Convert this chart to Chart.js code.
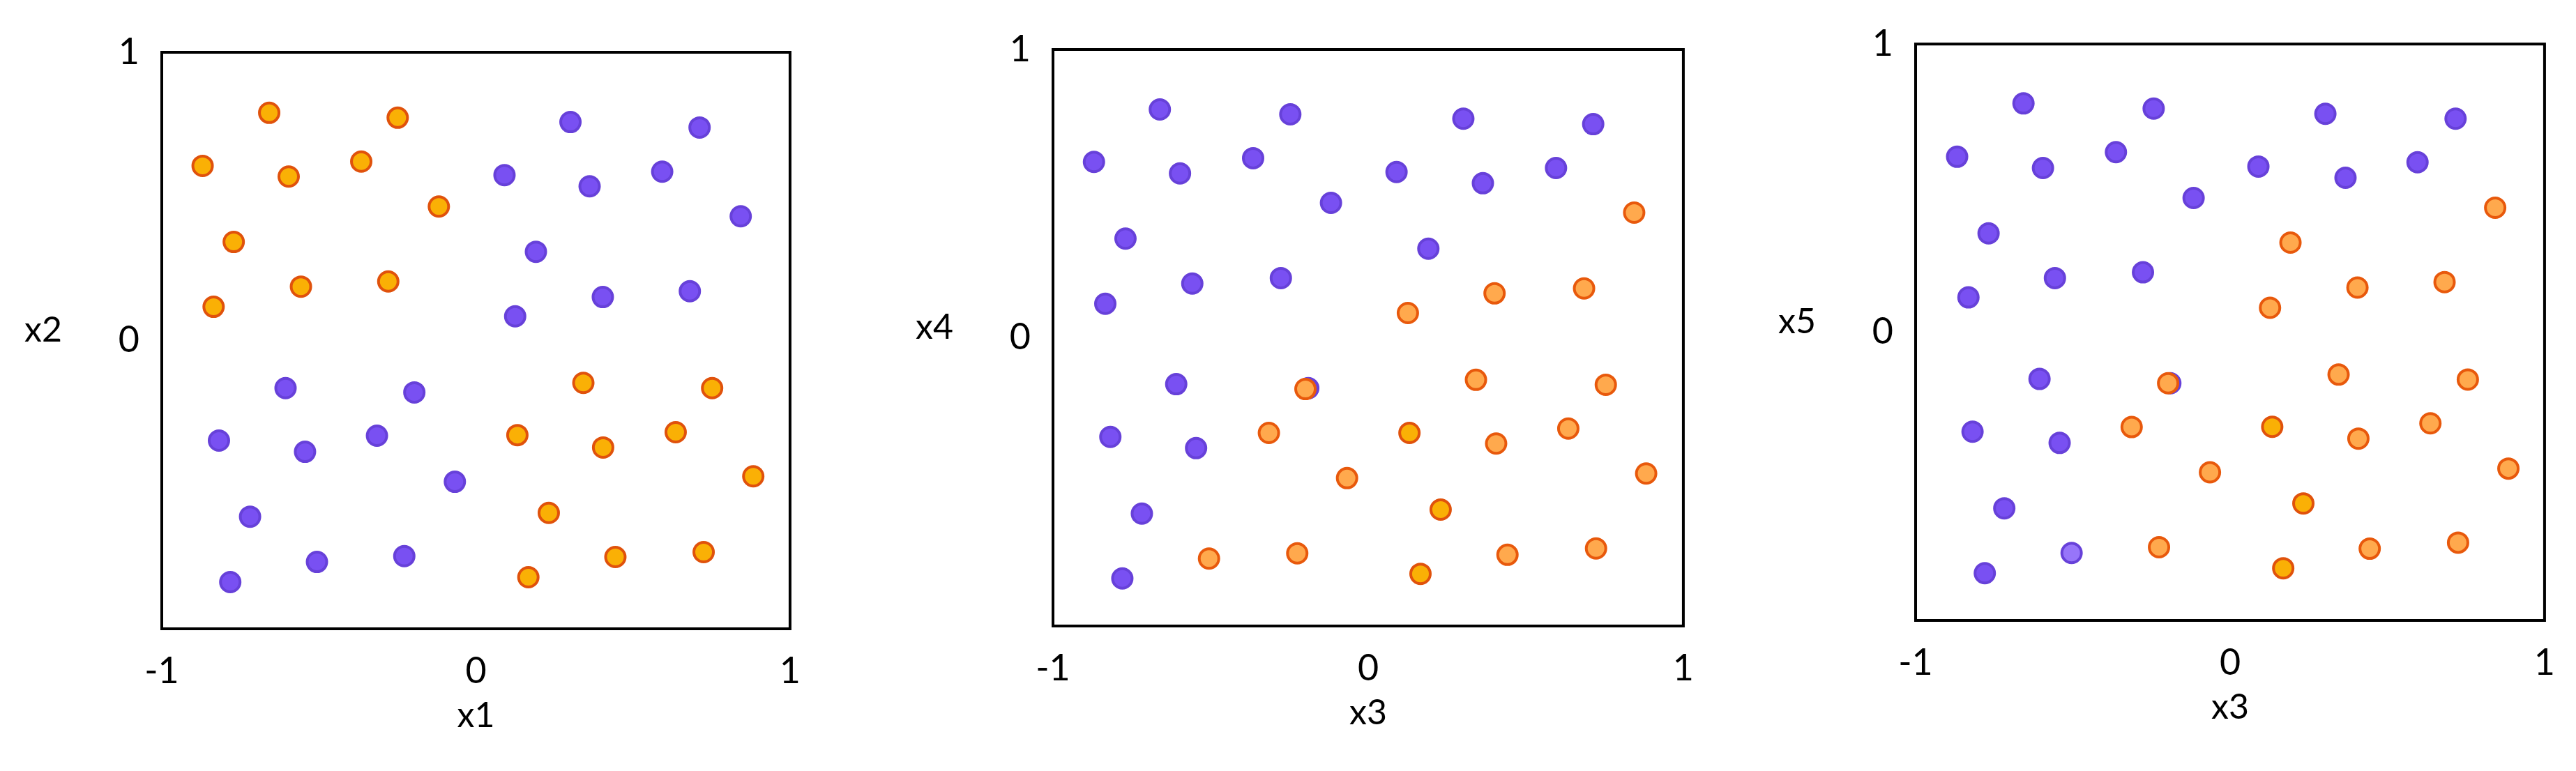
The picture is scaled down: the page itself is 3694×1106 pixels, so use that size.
<!DOCTYPE html>
<html>
<head>
<meta charset="utf-8">
<script src="https://cdn.jsdelivr.net/npm/chart.js@4.4.1/dist/chart.umd.min.js"></script>
<style>
body{margin:0;background:#fff;width:3694px;height:1106px;overflow:hidden;position:relative}
canvas{position:absolute;top:0}
</style>
</head>
<body>
<canvas id="c1"></canvas>
<canvas id="c2"></canvas>
<canvas id="c3"></canvas>
<script>
const xTicks = [-1, 0, 1]
const yTicks = [0, 1]
const axisNames = [['x1', 'x2'], ['x3', 'x4'], ['x3', 'x5']]

// panel 1 : x1 / x2
const p1Amber = [[-0.658,0.790],[-0.249,0.773],[-0.870,0.606],[-0.596,0.569],[-0.365,0.621],[-0.118,0.465],[-0.771,0.342],[-0.557,0.187],[-0.279,0.205],[-0.835,0.117],[0.342,-0.147],[0.752,-0.165],[0.132,-0.328],[0.405,-0.371],[0.636,-0.318],[0.883,-0.471],[0.232,-0.598],[0.167,-0.821],[0.444,-0.751],[0.725,-0.734]]
const p1Purple = [[0.301,0.758],[0.712,0.739],[0.091,0.574],[0.362,0.535],[0.593,0.586],[0.843,0.431],[0.191,0.308],[0.404,0.151],[0.681,0.171],[0.125,0.084],[-0.606,-0.165],[-0.196,-0.180],[-0.818,-0.347],[-0.544,-0.386],[-0.315,-0.330],[-0.067,-0.490],[-0.719,-0.611],[-0.782,-0.838],[-0.506,-0.768],[-0.228,-0.748]]

// panel 2 : x3 / x4
const p2Amber = [[0.131,-0.330],[0.230,-0.596],[0.166,-0.819]]
const p2Orange = [[0.844,0.434],[0.401,0.154],[0.685,0.171],[0.126,0.086],[0.342,-0.146],[0.754,-0.163],[-0.199,-0.178],[-0.315,-0.330],[0.406,-0.367],[0.635,-0.315],[-0.067,-0.487],[0.882,-0.471],[-0.505,-0.766],[-0.225,-0.748],[0.442,-0.753],[0.723,-0.731]]
const p2Purple = [[-0.661,0.792],[-0.247,0.775],[0.302,0.760],[0.714,0.741],[-0.870,0.610],[-0.597,0.570],[-0.365,0.623],[0.090,0.575],[0.364,0.536],[0.596,0.589],[-0.118,0.468],[-0.770,0.344],[0.191,0.309],[-0.558,0.188],[-0.277,0.207],[-0.834,0.118],[-0.609,-0.161],[-0.190,-0.175],[-0.818,-0.344],[-0.546,-0.383],[-0.718,-0.610],[-0.780,-0.835]]

// panel 3 : x3 / x5
const p3Amber = [[0.134,-0.328],[0.233,-0.594],[0.169,-0.819]]
const p3Orange = [[0.843,0.432],[0.192,0.311],[0.405,0.155],[0.682,0.174],[0.127,0.085],[0.345,-0.147],[0.756,-0.164],[-0.197,-0.177],[-0.313,-0.329],[0.408,-0.369],[0.637,-0.316],[-0.064,-0.486],[0.885,-0.473],[-0.226,-0.746],[0.444,-0.751],[0.725,-0.730]]
const p3Lilac = [[-0.504,-0.766]]
const p3Purple = [[-0.657,0.794],[-0.243,0.776],[0.303,0.758],[0.717,0.741],[-0.868,0.609],[-0.595,0.570],[-0.363,0.625],[0.090,0.575],[0.367,0.536],[0.596,0.590],[-0.116,0.466],[-0.768,0.343],[-0.557,0.188],[-0.277,0.208],[-0.832,0.121],[-0.606,-0.162],[-0.190,-0.177],[-0.819,-0.345],[-0.542,-0.384],[-0.718,-0.611],[-0.780,-0.836]]

const colors = {
	amber: ['#fab005', '#e0520c'],
	orange: ['#ffa94d', '#e8590c'],
	purple: ['#7950f2', '#6741d9'],
	lilac: ['#9775fa', '#6741d9']
}
// plot boxes in the page: left, top, right, bottom
const boxes = [[232, 75, 1148, 902], [1510, 71, 2429, 898], [2747, 63, 3664, 890]]
const FONT = 'Lato'

const frame = {
	id: 'frame',
	beforeDatasetsDraw(chart) {
		var a = chart.chartArea
		var ctx = chart.ctx
		ctx.save()
		ctx.strokeStyle = '#000'
		ctx.lineWidth = 4
		ctx.strokeRect(a.left, a.top, a.right - a.left, a.bottom - a.top)
		ctx.restore()
	},
	afterDraw(chart, args, opts) {
		var a = chart.chartArea
		var ctx = chart.ctx
		ctx.save()
		ctx.fillStyle = '#000'
		ctx.font = '50px ' + FONT
		ctx.textAlign = 'center'
		ctx.textBaseline = 'middle'
		ctx.fillText(opts.x, (a.left + a.right) / 2, a.bottom + 125)
		ctx.fillText(opts.y, a.left - 170, (a.top + a.bottom) / 2 - 15)
		ctx.restore()
	}
}

function set(points, kind) {
	return {
		data: points.map(p => ({ x: p[0], y: p[1] })),
		backgroundColor: colors[kind][0],
		borderColor: colors[kind][1],
		borderWidth: 4,
		pointRadius: 14,
		pointHoverRadius: 14
	}
}

function panel(id, k, series) {
	var b = boxes[k]
	var cv = document.getElementById(id)
	cv.width = b[2] - b[0] + 262
	cv.height = 1106
	cv.style.left = (b[0] - 232) + 'px'
	new Chart(cv, {
		type: 'scatter',
		data: { datasets: series },
		plugins: [frame],
		options: {
			responsive: false,
			animation: false,
			devicePixelRatio: 1,
			events: [],
			layout: { padding: { left: 100, right: 30, top: b[1], bottom: 1106 - b[3] - 150 } },
			plugins: {
				legend: { display: false },
				tooltip: { enabled: false },
				frame: { x: axisNames[k][0], y: axisNames[k][1] }
			},
			scales: {
				x: {
					min: -1, max: 1,
					grid: { display: false, drawTicks: false },
					border: { display: false },
					afterBuildTicks: s => { s.ticks = xTicks.map(v => ({ value: v })) },
					afterFit: s => { s.height = 150 },
					ticks: { padding: 30, color: '#000', font: { family: FONT, size: 52 }, callback: v => String(v) }
				},
				y: {
					min: -1, max: 1,
					grid: { display: false, drawTicks: false },
					border: { display: false },
					afterBuildTicks: s => { s.ticks = yTicks.map(v => ({ value: v })) },
					afterFit: s => { s.width = 132 },
					ticks: { padding: 32, color: '#000', font: { family: FONT, size: 52 }, callback: v => String(v) }
				}
			}
		}
	})
}

// first dataset is painted on top
panel('c1', 0, [set(p1Amber, 'amber'), set(p1Purple, 'purple')])
panel('c2', 1, [set(p2Amber, 'amber'), set(p2Orange, 'orange'), set(p2Purple, 'purple')])
panel('c3', 2, [set(p3Amber, 'amber'), set(p3Orange, 'orange'), set(p3Lilac, 'lilac'), set(p3Purple, 'purple')])
</script>
</body>
</html>
